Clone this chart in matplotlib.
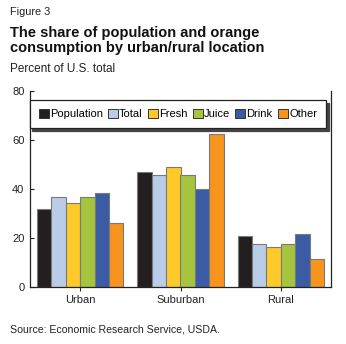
import matplotlib
matplotlib.use("Agg")
import matplotlib.pyplot as plt
import numpy as np

plt.rcParams['font.family'] = ['Liberation Sans', 'DejaVu Sans']

categories = ["Urban", "Suburban", "Rural"]
series_names = ["Population", "Total", "Fresh", "Juice", "Drink", "Other"]
population = [31.7, 46.8, 20.9]
total = [36.6, 45.6, 17.5]
fresh = [34.4, 48.9, 16.3]
juice = [36.6, 45.6, 17.5]
drink = [38.2, 39.9, 21.6]
other = [26.0, 62.3, 11.3]
colors = ["#231f20", "#b9cde9", "#fdca2a", "#a6c53f", "#3b5ba5", "#f7941d"]
yticks = [0, 20, 40, 60, 80]

values = [population, total, fresh, juice, drink, other]

fig = plt.figure(figsize=(3.46, 3.44), dpi=100)
ax = fig.add_axes([30/346, 57/344, 301/346, 196/344])

x = np.arange(len(categories))
w = 0.143
for i, (name, vals, c) in enumerate(zip(series_names, values, colors)):
    ax.bar(x + (i - 2.5) * w, vals, width=w, color=c, edgecolor="#7a7a7a",
           linewidth=0.8, label=name, zorder=2)

ax.set_xlim(-0.5, 2.5)
ax.set_ylim(0, 80)
ax.set_yticks(yticks)
ax.set_xticks(x)
ax.set_xticklabels(categories)
ax.tick_params(axis='y', direction='in', length=3, width=0.8, labelsize=8, pad=4, colors='#222222')
ax.tick_params(axis='x', direction='out', length=3, width=0.8, labelsize=8, pad=3, colors='#222222')
ax.spines['top'].set_visible(False)
for s in ['left', 'right', 'bottom']:
    ax.spines[s].set_linewidth(0.9)
    ax.spines[s].set_color('#222222')

leg = ax.legend(loc='upper center', bbox_to_anchor=(0.491, 0.955), ncol=6,
                fontsize=8, frameon=True, fancybox=False, edgecolor='#222222',
                handlelength=0.9, handleheight=0.95, handletextpad=0.12,
                columnspacing=0.45, borderpad=0.8, borderaxespad=0,
                shadow={'color': '#444444', 'alpha': 1.0, 'ox': 2, 'oy': -2})
leg.get_frame().set_linewidth(0.9)
for h in leg.legend_handles:
    h.set_edgecolor('#333333')
    h.set_linewidth(0.7)

fig.text(10/346, 1 - 12/344, "Figure 3", fontsize=7.8, va='center', ha='left', color='#222222')
fig.text(10/346, 1 - 40.5/344, "The share of population and orange\nconsumption by urban/rural location",
         fontsize=10.5, fontweight='bold', va='center', ha='left', linespacing=1.1, color='#111111')
fig.text(10/346, 1 - 69/344, "Percent of U.S. total", fontsize=8.5, va='center', ha='left', color='#222222')
fig.text(10/346, 1 - 330/344, "Source: Economic Research Service, USDA.", fontsize=7.6,
         va='center', ha='left', color='#222222')

fig.savefig("out.png", dpi=100)
